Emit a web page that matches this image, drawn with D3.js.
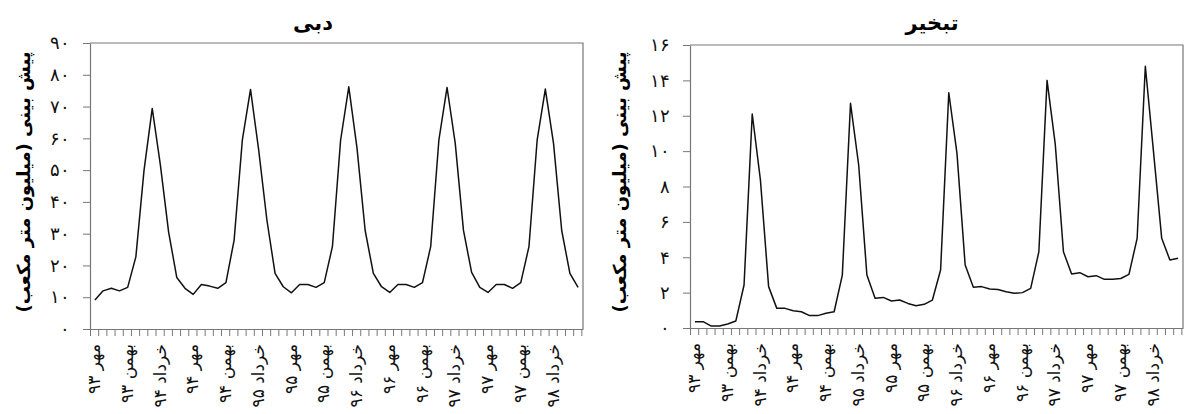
<!DOCTYPE html>
<html>
<head>
<meta charset="utf-8">
<script src="https://cdn.jsdelivr.net/npm/d3@7"></script>
<style>
  body { margin: 0; background: #fff; }
  svg { display: block; font-family: "DejaVu Sans", sans-serif; }
</style>
</head>
<body>
<script>
// monthly labels, one every 4 months starting at mehr 93
var monthLabels = ["مهر ۹۳", "بهمن ۹۳", "خرداد ۹۴", "مهر ۹۴", "بهمن ۹۴", "خرداد ۹۵",
  "مهر ۹۵", "بهمن ۹۵", "خرداد ۹۶", "مهر ۹۶", "بهمن ۹۶", "خرداد ۹۷",
  "مهر ۹۷", "بهمن ۹۷", "خرداد ۹۸"];

// discharge forecast (million m3), mehr 93 .. shahrivar 98
var discharge = [9.1, 12.0, 12.8, 12.0, 13.1, 22.7, 50.0, 69.4, 51.5, 30.5, 16.2, 12.8,
  10.9, 14.0, 13.5, 12.8, 14.6, 28.0, 59.4, 75.4, 56.3, 34.3, 17.5, 13.3,
  11.4, 14.0, 14.0, 13.1, 14.6, 25.9, 59.4, 76.2, 57.0, 31.0, 17.5, 13.3,
  11.5, 14.0, 14.0, 13.1, 14.6, 25.9, 59.4, 76.0, 58.4, 31.1, 17.8, 13.1,
  11.5, 14.0, 14.0, 12.8, 14.6, 25.9, 59.4, 75.5, 58.4, 31.0, 17.5, 13.1];

// evaporation forecast (million m3)
var evaporation = [0.36, 0.36, 0.11, 0.11, 0.23, 0.40, 2.43, 12.1, 8.36, 2.34, 1.11, 1.11,
  0.98, 0.92, 0.70, 0.70, 0.83, 0.92, 2.99, 12.7, 9.2, 3.0, 1.68, 1.73,
  1.53, 1.58, 1.39, 1.26, 1.34, 1.58, 3.28, 13.3, 9.87, 3.56, 2.30, 2.34,
  2.20, 2.18, 2.05, 1.96, 2.0, 2.24, 4.31, 14.0, 10.4, 4.31, 3.05, 3.13,
  2.9, 2.96, 2.75, 2.75, 2.8, 3.03, 5.07, 14.8, 9.96, 5.07, 3.84, 3.94];

var dischargeTicks = [0, 10, 20, 30, 40, 50, 60, 70, 80, 90];
var evapTicks = [0, 2, 4, 6, 8, 10, 12, 14, 16];

var yTitle = "پیش بینی (میلیون متر مکعب)";

var fa = function(n) {
  return String(n).replace(/\d/g, function(d) { return "۰۱۲۳۴۵۶۷۸۹"[d]; });
};

var svg = d3.select("body").append("svg")
    .attr("width", 1187)
    .attr("height", 414);

var panels = [
  { title: "دبی", values: discharge, ticks: dischargeTicks, left: 90, right: 583, top: 43, bottom: 329,
    titleX: 313, labelX: 24 },
  { title: "تبخیر", values: evaporation, ticks: evapTicks, left: 690, right: 1183, top: 45, bottom: 328,
    titleX: 932, labelX: 620 }
];

panels.forEach(function(p) {
  var g = svg.append("g");
  var n = p.values.length;

  var x = d3.scaleLinear().domain([-0.6, n - 0.4]).range([p.left, p.right]);
  var y = d3.scaleLinear().domain([0, d3.max(p.ticks)]).range([p.bottom, p.top]);

  // frame top and right
  g.append("path")
    .attr("d", "M" + p.left + "," + p.top + "H" + p.right + "V" + p.bottom)
    .attr("fill", "none")
    .attr("stroke", "#777")
    .attr("stroke-width", 1.2);

  // y axis
  var yAxis = g.append("g")
    .attr("transform", "translate(" + p.left + ",0)")
    .call(d3.axisLeft(y).tickValues(p.ticks).tickSize(7).tickSizeOuter(0).tickFormat(fa));
  yAxis.select(".domain").attr("stroke", "#777").attr("stroke-width", 1.2);
  yAxis.selectAll(".tick line").attr("stroke", "#777");
  yAxis.selectAll(".tick text")
    .attr("font-size", 18)
    .attr("fill", "#111")
    .attr("x", -20);

  // x axis, one tick per month
  var monthTicks = d3.range(n + 1).map(function(k) { return k - 0.6; });
  var xAxis = g.append("g")
    .attr("transform", "translate(0," + p.bottom + ")")
    .call(d3.axisBottom(x).tickValues(monthTicks).tickSize(7).tickSizeOuter(0).tickFormat(""));
  xAxis.select(".domain").attr("stroke", "#777").attr("stroke-width", 1.2);
  xAxis.selectAll(".tick line").attr("stroke", "#777");

  // rotated month labels
  g.selectAll(".mlabel")
    .data(monthLabels)
    .enter()
    .append("text")
    .attr("class", "mlabel")
    .attr("direction", "rtl")
    .attr("text-anchor", "start")
    .attr("font-size", 17)
    .attr("fill", "#111")
    .attr("dy", "0.3em")
    .attr("transform", function(d, i) {
      return "translate(" + x(i * 4) + "," + (p.bottom + 15) + ") rotate(-90)";
    })
    .text(function(d) { return d; });

  // series line
  var line = d3.line()
    .x(function(d, i) { return x(i); })
    .y(function(d) { return y(d); });

  g.append("path")
    .datum(p.values)
    .attr("d", line)
    .attr("fill", "none")
    .attr("stroke", "#111")
    .attr("stroke-width", 1.5)
    .attr("stroke-linejoin", "round");

  // title
  g.append("text")
    .attr("x", p.titleX)
    .attr("y", 30)
    .attr("text-anchor", "middle")
    .attr("direction", "rtl")
    .attr("font-size", 21)
    .attr("font-weight", "bold")
    .text(p.title);

  // y axis title
  g.append("text")
    .attr("transform", "translate(" + p.labelX + "," + 182 + ") rotate(-90)")
    .attr("text-anchor", "middle")
    .attr("direction", "rtl")
    .attr("dy", "0.35em")
    .attr("font-size", 18)
    .attr("font-weight", "bold")
    .text(yTitle);
});
</script>
</body>
</html>
